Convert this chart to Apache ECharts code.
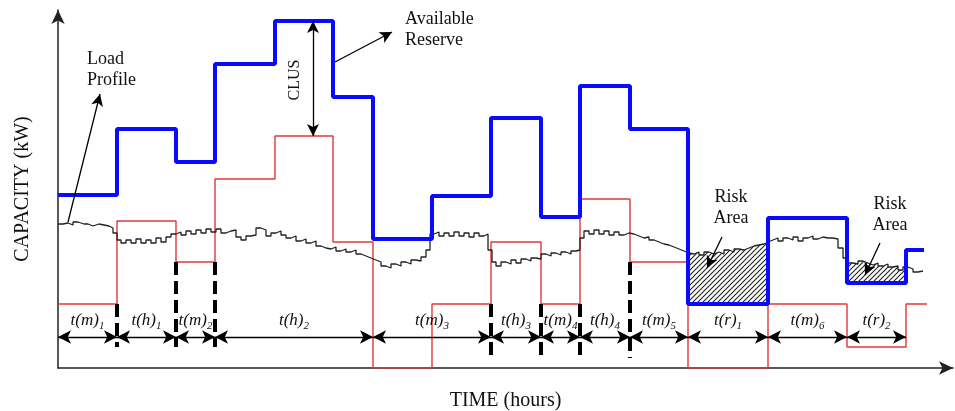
<!DOCTYPE html>
<html>
<head>
<meta charset="utf-8">
<script src="https://cdn.jsdelivr.net/npm/echarts@6/dist/echarts.min.js"></script>
<style>
  html, body { margin: 0; padding: 0; background: #fff; }
  #chart { width: 955px; height: 411px; }
</style>
</head>
<body>
<div id="chart"></div>
<script>
// time axis in arbitrary units, capacity in arbitrary kW units (schematic, no ticks)
const reserveEdges = [0, 59, 118, 157, 217, 275, 315, 374, 433, 483, 522, 572, 630, 710, 789, 848, 866];
const reserveLevels = [173, 239, 206, 304, 347, 271, 129, 172, 250, 151, 282, 239, 64, 150, 85, 118];

const demandEdges = [0, 59, 118, 157, 217, 275, 315, 374, 433, 483, 522, 572, 630, 710, 789, 848, 869];
const demandLevels = [64, 147, 106, 189, 232, 126, 0, 64, 126, 64, 169, 106, 0, 64, 21, 64];

const loadTimes = [0, 5, 10, 15, 20, 26, 30, 35, 41, 46, 51, 55, 59, 63, 68, 73, 78, 83, 88, 93, 98, 103, 108, 113,
  118, 123, 128, 133, 138, 143, 148, 153, 158, 163, 168, 173, 178, 183, 188, 193, 198, 203, 208, 213, 218, 223,
  228, 233, 238, 243, 248, 253, 258, 263, 268, 273, 278, 283, 288, 293, 298, 303, 308, 313, 318, 323, 328, 333,
  338, 343, 348, 353, 358, 363, 368, 372, 376, 381, 386, 391, 396, 401, 406, 411, 416, 421, 426, 430, 434, 438,
  443, 448, 453, 458, 463, 468, 473, 478, 483, 488, 493, 498, 503, 508, 513, 518, 522, 526, 531, 536, 541, 546,
  551, 556, 561, 566, 571, 576, 581, 586, 591, 596, 601, 606, 611, 616, 621, 626, 631, 636, 641, 646, 651, 656,
  661, 666, 671, 676, 681, 686, 691, 696, 701, 706, 710, 715, 720, 725, 730, 735, 740, 745, 750, 755, 760, 765,
  770, 775, 780, 785, 790, 795, 800, 805, 810, 815, 820, 825, 830, 835, 840, 845, 850, 855, 860, 865];
const loadLevels = [144, 145, 143, 146, 144, 144, 142, 144, 143, 142, 140, 135, 128, 125, 128, 125, 129, 125, 128, 125, 130, 126, 131, 134,
  136, 133, 137, 134, 138, 135, 139, 136, 139, 135, 137, 138, 131, 128, 132, 133, 140, 138, 132, 135, 137, 133,
  130, 132, 127, 129, 125, 127, 122, 120, 119, 121, 117, 119, 116, 118, 114, 112, 110, 108, 106, 102, 100, 104,
  102, 106, 104, 108, 107, 111, 118, 134, 136, 132, 135, 132, 136, 132, 135, 131, 135, 132, 134, 118, 106, 102,
  106, 104, 108, 105, 109, 107, 110, 109, 114, 112, 115, 113, 116, 114, 117, 118, 130, 137, 134, 138, 134, 137,
  133, 136, 133, 135, 134, 132, 130, 131, 128, 126, 124, 123, 121, 119, 117, 115, 114, 116, 113, 116, 114, 116,
  114, 118, 116, 119, 118, 120, 122, 123, 124, 126, 128, 130, 127, 130, 128, 131, 127, 130, 132, 129, 131, 130,
  130, 129, 120, 110, 105, 104, 107, 105, 103, 105, 102, 104, 101, 102, 98, 101, 99, 96, 97, 97];

// measured periods along the bottom
const periodEdges = [0, 59, 118, 157, 315, 433, 483, 522, 572, 630, 710, 789, 848];
const periodNames = ['t(m)', 't(h)', 't(m)', 't(h)', 't(m)', 't(h)', 't(m)', 't(h)', 't(m)', 't(r)', 't(m)', 't(r)'];
const periodSubs = ['1', '1', '2', '2', '3', '3', '4', '4', '5', '1', '6', '2'];

// switching instants marked by dashed guides, and where each guide stops
const switchTimes = [59, 118, 157, 433, 483, 522, 572];
const switchEnds = [21, 21, 21, 8, 8, 8, 10];

// risk windows (reserve segment index)
const riskSegments = [12, 14];

const serif = 'Liberation Serif';
const ink = '#111';

function stepData(edges, levels) {
  const pts = levels.map((v, i) => [edges[i], v]);
  pts.push([edges[edges.length - 1], levels[levels.length - 1]]);
  return pts;
}

function loadSlice(t0, t1) {
  let first = loadLevels[0];
  loadTimes.forEach((t, i) => { if (t <= t0) first = loadLevels[i]; });
  const pts = [[t0, first]];
  loadTimes.forEach((t, i) => { if (t > t0 && t < t1) pts.push([t, loadLevels[i]]); });
  pts.push([t1, pts[pts.length - 1][1]]);
  return pts;
}

// hatch pattern for the risk areas
const hatch = document.createElement('canvas');
hatch.width = 5;
hatch.height = 5;
const hg = hatch.getContext('2d');
hg.fillStyle = '#fff';
hg.fillRect(0, 0, 5, 5);
hg.strokeStyle = '#222';
hg.lineWidth = 1.1;
hg.beginPath();
hg.moveTo(0, 5); hg.lineTo(5, 0);
hg.moveTo(-1, 1); hg.lineTo(1, -1);
hg.moveTo(4, 6); hg.lineTo(6, 4);
hg.stroke();

const chart = echarts.init(document.getElementById('chart'));

const riskSeries = riskSegments.map(k => ({
  type: 'line',
  step: 'end',
  data: loadSlice(reserveEdges[k], reserveEdges[k + 1]),
  showSymbol: false,
  lineStyle: { width: 0 },
  areaStyle: { origin: reserveLevels[k], color: { image: hatch, repeat: 'repeat' }, opacity: 1 },
  z: 1,
  silent: true
}));

const dimY = 31;
const dimLabelY = 47;

const dimLines = periodNames.map((n, i) => [
  { coord: [periodEdges[i], dimY] },
  { coord: [periodEdges[i + 1], dimY] }
]);

const guideLines = switchTimes.map((t, i) => {
  const k = demandEdges.indexOf(t);
  const top = Math.min(demandLevels[k - 1], demandLevels[k]);
  return [{ coord: [t, top] }, { coord: [t, switchEnds[i]] }];
});

const clusT = 255;
const pointerLines = [
  [{ coord: [10, 146] }, { coord: [42, 274] }],
  [{ coord: [277, 306] }, { coord: [334, 336] }],
  [{ coord: [664, 131] }, { coord: [649, 100] }],
  [{ coord: [822, 125] }, { coord: [807, 93] }]
];

const notes = [
  { value: [29, 298], name: 'Load\nProfile', label: { align: 'left' } },
  { value: [347, 338], name: 'Available\nReserve', label: { align: 'left' } },
  { value: [237, 288], name: 'CLUS', label: { rotate: 90, fontSize: 16 } },
  { value: [673, 160], name: 'Risk\nArea' },
  { value: [832, 153], name: 'Risk\nArea' }
];

const periodLabels = periodNames.map((n, i) => ({
  value: [(periodEdges[i] + periodEdges[i + 1]) / 2, dimLabelY],
  name: '{a|' + n + '}{b|' + periodSubs[i] + '}'
}));

const option = {
  animation: false,
  backgroundColor: '#fff',
  grid: { left: 58, right: 2, top: 10, bottom: 43, outerBoundsMode: 'none' },
  xAxis: {
    type: 'value', min: 0, max: 895,
    name: 'TIME (hours)', nameLocation: 'middle', nameGap: 23,
    nameTextStyle: { fontFamily: serif, fontSize: 20, color: ink },
    axisLine: { show: true, symbol: ['none', 'arrow'], symbolSize: [10, 14], lineStyle: { color: '#222', width: 1.5 } },
    axisTick: { show: false }, axisLabel: { show: false }, splitLine: { show: false }
  },
  yAxis: {
    type: 'value', min: 0, max: 358,
    name: 'CAPACITY (kW)', nameLocation: 'middle', nameGap: 25, nameRotate: 90,
    nameTextStyle: { fontFamily: serif, fontSize: 20, color: ink },
    axisLine: { show: true, symbol: ['none', 'arrow'], symbolSize: [10, 14], lineStyle: { color: '#222', width: 1.5 } },
    axisTick: { show: false }, axisLabel: { show: false }, splitLine: { show: false }
  },
  series: [
    ...riskSeries,
    {
      name: 'Demand',
      type: 'line', step: 'end',
      data: stepData(demandEdges, demandLevels),
      showSymbol: false,
      lineStyle: { color: '#e0383a', width: 1.4 },
      z: 2,
      markLine: {
        silent: true, symbol: 'none', label: { show: false },
        lineStyle: { color: '#000', width: 4, type: [13, 6] },
        data: guideLines
      }
    },
    {
      name: 'Load Profile',
      type: 'line', step: 'end',
      data: loadTimes.map((t, i) => [t, loadLevels[i]]),
      showSymbol: false,
      lineStyle: { color: '#222', width: 1.3 },
      z: 3,
      markLine: {
        silent: true, symbol: ['arrow', 'arrow'], symbolSize: [10, 13], label: { show: false },
        lineStyle: { color: '#000', width: 1.3, type: 'solid' },
        data: dimLines
      }
    },
    {
      name: 'Available Reserve',
      type: 'line', step: 'end',
      data: stepData(reserveEdges, reserveLevels),
      showSymbol: false,
      lineStyle: { color: '#0a0aff', width: 4 },
      z: 4,
      markLine: {
        silent: true, symbol: ['none', 'arrow'], symbolSize: [9, 12], label: { show: false },
        lineStyle: { color: '#000', width: 1.3, type: 'solid' },
        data: pointerLines.concat([[
          { coord: [clusT, reserveLevels[4]], symbol: 'arrow' },
          { coord: [clusT, demandLevels[4]] }
        ]])
      }
    },
    {
      type: 'scatter',
      symbolSize: 0,
      data: notes,
      z: 6,
      silent: true,
      itemStyle: { opacity: 1 },
      label: {
        show: true, position: 'inside', formatter: '{b}',
        fontFamily: serif, fontSize: 18, lineHeight: 21, color: ink, opacity: 1
      }
    },
    {
      type: 'scatter',
      symbolSize: 0,
      data: periodLabels,
      z: 6,
      silent: true,
      itemStyle: { opacity: 1 },
      label: {
        show: true, position: 'inside', formatter: '{b}', opacity: 1,
        rich: {
          a: { fontFamily: serif, fontStyle: 'italic', fontSize: 17, color: ink },
          b: { fontFamily: serif, fontStyle: 'italic', fontSize: 11, color: ink, padding: [10, 0, 0, 0] }
        }
      }
    }
  ]
};

chart.setOption(option);
</script>
</body>
</html>
